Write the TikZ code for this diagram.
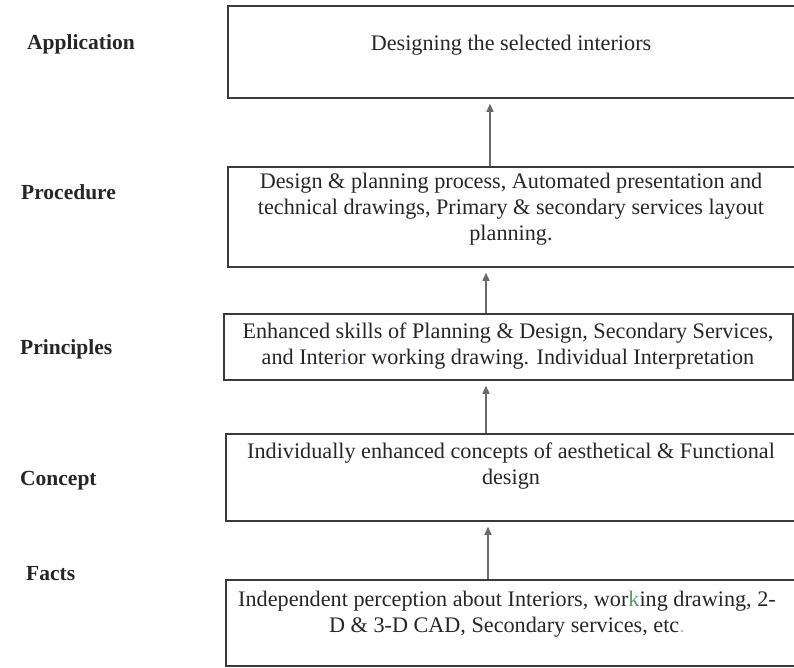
\documentclass[tikz,border=0pt]{standalone}
\usepackage{fontspec}
\setmainfont{Liberation Serif}
\usetikzlibrary{arrows.meta}
\definecolor{boxgray}{HTML}{3A3A3A}
\definecolor{arrowgray}{HTML}{6A6A6A}
\definecolor{kgreen}{HTML}{5A9A6A}
\definecolor{iblue}{HTML}{5A5AA0}
\begin{document}
\begin{tikzpicture}[x=1pt,y=-1pt,
  box/.style={draw=boxgray, line width=1.5pt, inner sep=0pt},
  txt/.style={font=\fontsize{22.2}{26}\selectfont, align=center, inner sep=0pt, anchor=base, text=black!85},
  lab/.style={font=\fontsize{21.5}{24}\selectfont\bfseries, inner sep=0pt, anchor=base west, text=black!85},
  conn/.style={draw=arrowgray, line width=1.3pt, -{Triangle[length=8pt,width=7pt]}, shorten >=5pt}]
\useasboundingbox (0,0) rectangle (794,667);
% boxes
\node[box, minimum width=568pt, minimum height=92pt]  (b1) at (512,52)    {};
\node[box, minimum width=568pt, minimum height=100pt] (b2) at (512,217)   {};
\node[box, minimum width=569pt, minimum height=66pt]  (b3) at (508.5,347) {};
\node[box, minimum width=570pt, minimum height=87pt]  (b4) at (511,477.5) {};
\node[box, minimum width=570pt, minimum height=86pt]  (b5) at (511,623)   {};
% texts (anchor base = baseline of the last line)
\node[txt] (t1) at (511,50) {Designing the selected interiors};
\node[txt] (t2) at (511,240) {Design \& planning process, Automated presentation and\\technical drawings, Primary \& secondary services layout\\planning.};
\node[txt] (t3) at (508,364) {Enhanced skills of Planning \& Design, Secondary Services,\\and Inter{\color{iblue}i}or working drawing. Individual Interpretation};
\node[txt] (t4) at (511,484) {Individually enhanced concepts of aesthetical \& Functional\\design};
\node[txt] (t5) at (507,632) {Independent perception about Interiors, wor{\color{kgreen}k}ing drawing, 2-\\D \& 3-D CAD, Secondary services, etc{\color{lightgray}.}};
% labels
\node[lab] (l1) at (27,49)  {Application};
\node[lab] (l2) at (21,199) {Procedure};
\node[lab] (l3) at (20,354) {Principles};
\node[lab] (l4) at (20,485) {Concept};
\node[lab] (l5) at (26,580) {Facts};
% arrows
\coordinate (ax1) at (490,0);
\coordinate (ax2) at (486,0);
\coordinate (ax3) at (486,0);
\coordinate (ax4) at (488,0);
\draw[conn] (b2.north -| ax1) -- (b1.south -| ax1);
\draw[conn] (b3.north -| ax2) -- (b2.south -| ax2);
\draw[conn] (b4.north -| ax3) -- (b3.south -| ax3);
\draw[conn] (b5.north -| ax4) -- (b4.south -| ax4);
\end{tikzpicture}
\end{document}
